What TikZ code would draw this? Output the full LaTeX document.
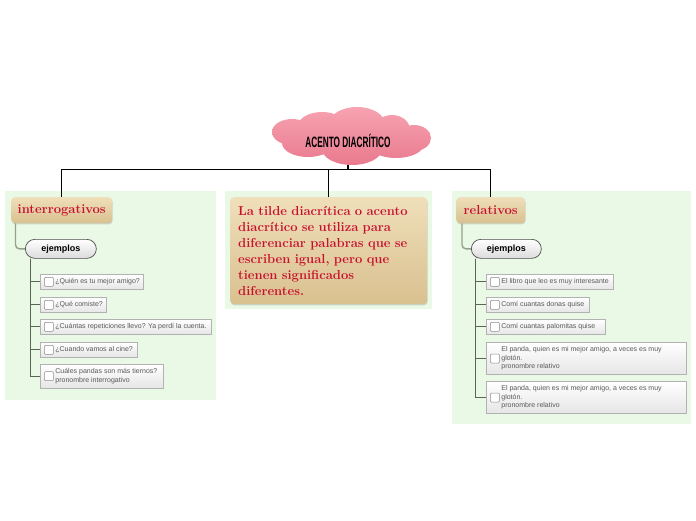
\documentclass[tikz,border=0pt]{standalone}
\usepackage{fontspec}
\setsansfont{Liberation Sans}
\usepackage{graphicx}
\usepackage{xcolor}
\usepackage{tikz}
\usetikzlibrary{shadows}

\definecolor{panelgreen}{HTML}{EAF9E5}
\definecolor{tantop}{HTML}{EFDFBA}
\definecolor{tanbot}{HTML}{D9C08F}
\definecolor{titlered}{HTML}{C8102E}
\definecolor{cloudtop}{HTML}{F7A3B1}
\definecolor{cloudbot}{HTML}{E97A8E}
\definecolor{branch}{HTML}{94A287}
\definecolor{trunk}{HTML}{5C6552}

% item text: left padded for the check box
\newcommand{\chk}[2]{\makebox[#1][l]{\hspace*{13pt}\begin{tabular}{@{}l@{}}#2\end{tabular}}}

\begin{document}
\begin{tikzpicture}[x=1pt,y=-1pt,
    link/.style={draw=black, line width=1.5pt},
    branch/.style={draw=branch, line width=1.4pt, rounded corners=4pt},
    trunkline/.style={draw=trunk, line width=1pt},
    topic/.style={anchor=north west, rounded corners=4pt, top color=tantop, bottom color=tanbot,
        drop shadow={shadow xshift=0.5pt, shadow yshift=-1.2pt, opacity=0.3},
        text=titlered, font=\bfseries\fontsize{13}{16}\selectfont, minimum height=26pt},
    pill/.style={anchor=north west, rounded corners=9.5pt, top color=white, bottom color=black!14,
        draw=black!70, line width=0.7pt, font=\sffamily\bfseries\fontsize{9}{11}\selectfont,
        minimum height=19pt, inner sep=0pt},
    item/.style={anchor=north west, top color=white, bottom color=black!10, draw=black!30,
        line width=0.8pt, text=black!65, font=\sffamily\fontsize{7}{8.6}\selectfont,
        inner xsep=2pt, inner ysep=3.2pt,
        drop shadow={shadow xshift=0.4pt, shadow yshift=-0.8pt, opacity=0.15},
        path picture={\draw[black!45, fill=white, line width=0.5pt, rounded corners=1pt]
            ([xshift=4pt,yshift=-4.5pt]path picture bounding box.west) rectangle ++(9pt,9pt);}},
]
\useasboundingbox (0,0) rectangle (696,520);

% panels
\fill[panelgreen] (5,191) rectangle (216,400);
\fill[panelgreen] (225,191) rectangle (432,309);
\fill[panelgreen] (452,191) rectangle (691,424);

% central idea
\path[top color=cloudtop, bottom color=cloudbot]
    (292,132) ellipse (20 and 13) (322,126) ellipse (24 and 14)
    (357,124) ellipse (28 and 17) (392,130) ellipse (18 and 15)
    (414,138) ellipse (17 and 13) (396,144) ellipse (28 and 14)
    (352,149) ellipse (30 and 16) (308,143) ellipse (26 and 14)
    (350,136) ellipse (60 and 18);
\node[minimum height=49pt, inner sep=0pt] (cloud) at (348,140.5)
    {\sffamily\bfseries\fontsize{15}{15}\selectfont\scalebox{0.55}[1]{ACENTO DIACRÍTICO}};

% main topics
\node[topic, minimum width=101pt] (intL) at (11,197) {interrogativos};
\node[topic, minimum width=197pt, minimum height=107pt, text width=181pt, align=left,
    inner xsep=8pt, inner ysep=6pt] (mid) at (230,197)
    {La tilde diacrítica o acento\\diacrítico se utiliza para\\diferenciar palabras que se\\escriben igual, pero que\\tienen significados\\diferentes.};
\node[topic, minimum width=69pt] (relR) at (456,197) {relativos};

\coordinate (hub) at (348,169.5);
\draw[link] (cloud.south) -- (hub);
\draw[link] (intL.north) |- (hub) -| (relR.north);
\draw[link] (mid.north) -- (mid.north |- hub);

% interrogativos
\node[pill, minimum width=71pt] (ejL) at (25,239) {ejemplos};
\draw[branch] ([xshift=4.5pt]intL.south west) |- (ejL.west);

\node[item] (iL1) at (40,274) {\chk{99pt}{¿Quién es tu mejor amigo?}};
\node[item] (iL2) at (40,297) {\chk{62pt}{¿Qué comiste?}};
\node[item] (iL3) at (40,319) {\chk{167pt}{¿Cuántas repeticiones llevo? Ya perdí la cuenta.}};
\node[item] (iL4) at (40,342) {\chk{93pt}{¿Cuando vamos al cine?}};
\node[item] (iL5) at (40,364) {\chk{119pt}{Cuáles pandas son más tiernos?\\pronombre interrogativo}};

\foreach \n in {iL1,iL2,iL3,iL4,iL5}
    \draw[trunkline] ([xshift=5pt]ejL.south west) |- (\n.west);

% relativos
\node[pill, minimum width=70pt] (ejR) at (471,239) {ejemplos};
\draw[branch] ([xshift=6pt]relR.south west) |- (ejR.west);

\node[item] (iR1) at (486,274) {\chk{123pt}{El libro que leo es muy interesante}};
\node[item] (iR2) at (486,297) {\chk{99pt}{Comí cuantas donas quise}};
\node[item] (iR3) at (486,319) {\chk{115pt}{Comí cuantas palomitas quise}};
\node[item] (iR4) at (486,342) {\chk{196pt}{El panda, quien es mi mejor amigo, a veces es muy\\glotón.\\pronombre relativo}};
\node[item] (iR5) at (486,381) {\chk{196pt}{El panda, quien es mi mejor amigo, a veces es muy\\glotón.\\pronombre relativo}};

\foreach \n in {iR1,iR2,iR3,iR4,iR5}
    \draw[trunkline] ([xshift=4pt]ejR.south west) |- (\n.west);
\end{tikzpicture}
\end{document}
